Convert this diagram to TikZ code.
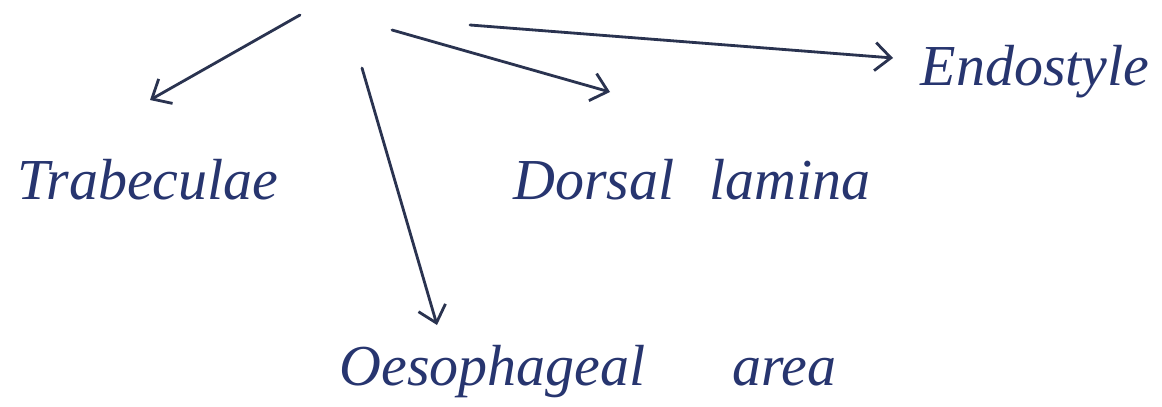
\documentclass[tikz,border=0pt]{standalone}
\usepackage{fontspec}
\setmainfont{Liberation Serif}
\usetikzlibrary{arrows.meta}
\definecolor{ink}{HTML}{27356F}
\definecolor{pen}{HTML}{2A3350}
\tikzset{
  lbl/.style={text=ink, font=\itshape\fontsize{33}{36}\selectfont, inner sep=0pt},
  conn/.style={draw=pen, line width=1.6pt, line cap=round, -{Straight Barb[length=9pt,width=16pt,line width=1.6pt]}}
}
\begin{document}
\begin{tikzpicture}[x=0.02cm,y=-0.02cm]
\useasboundingbox[fill=white] (0,0) rectangle (1162,406);
\coordinate (s1) at (300,15);
\coordinate (s2) at (362,68);
\coordinate (s3) at (392,30);
\coordinate (s4) at (470,25);
\node[lbl] (tra) at (148,180) {Trabeculae};
\node[lbl] (dor) at (692,180) {Dorsal\hspace{0.6em}lamina};
\node[lbl] (end) at (1035,72) {Endostyle};
\node[lbl] (oes) at (588,372) {Oesophageal\hspace{1.5em}area};
\coordinate (t1) at (150,100);
\coordinate (t2) at (437,325);
\coordinate (t3) at (610,92);
\coordinate (t4) at (893,58);
\draw[conn] (s1) -- (t1);
\draw[conn] (s2) -- (t2);
\draw[conn] (s3) -- (t3);
\draw[conn] (s4) -- (t4);
\end{tikzpicture}
\end{document}
